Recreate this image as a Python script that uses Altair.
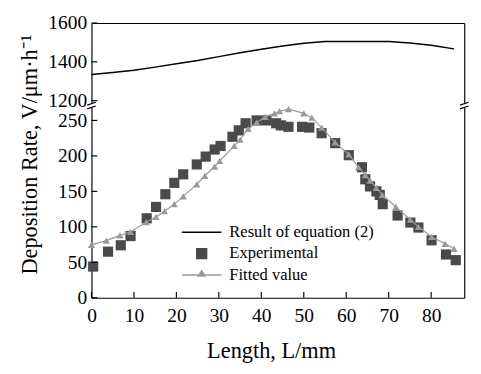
import altair as alt
import pandas as pd

# ---------------- data ----------------
eq_L = [0, 5, 10, 15, 20, 25, 30, 35, 40, 45, 50, 55, 60, 65, 70, 75, 80, 85.4]
eq_V = [1335, 1345, 1357, 1373, 1390, 1407, 1427, 1447, 1465, 1482, 1496, 1505,
        1505, 1505, 1505, 1497, 1486, 1467]

exp_L = [0.4, 3.9, 6.9, 9.2, 13.0, 15.2, 17.4, 19.5, 21.6, 24.8, 26.9, 29.0, 30.4,
         33.2, 34.7, 36.3, 38.9, 41.2, 43.5, 44.6, 46.4, 49.6, 51.3, 54.2, 57.4,
         60.6, 63.7, 64.5, 65.6, 67.1, 67.9, 68.6, 72.1, 75.1, 77.0, 80.1, 83.5, 85.8]
exp_V = [44, 65, 74, 87, 112, 128, 146, 162, 174, 188, 199, 209, 214, 227, 236, 246,
         250, 250, 246, 243, 241, 241, 240, 232, 218, 201, 184, 167, 157, 150, 145,
         132, 116, 106, 99, 81, 61, 53]

fit_L = [0, 3.5, 6.7, 9.2, 12.9, 15.2, 17.2, 19.5, 21.6, 24.8, 26.7, 29.0, 30.2,
         33.6, 35.0, 36.9, 38.9, 40.9, 43.1, 44.3, 46.4, 50.0, 51.9, 54.2, 57.4,
         60.6, 62.9, 64.5, 65.6, 67.1, 68.5, 71.7, 75.1, 77.0, 80.1, 83.3, 85.4]
fit_V = [74.5, 80.5, 88, 93, 106.5, 114, 122, 132, 143, 160, 172, 185, 193, 214, 223,
         238, 247, 255, 260, 263, 266, 260, 254, 240, 219, 202, 184, 173, 165, 155,
         145, 128, 110, 100, 86, 76, 69]

x_ticks = [0, 10, 20, 30, 40, 50, 60, 70, 80]
top_ticks = [1200, 1400, 1600]
bot_ticks = [0, 50, 100, 150, 200, 250]
series = ["Result of equation (2)", "Experimental", "Fitted value"]
x_title = "Length, L/mm"
y_title = "Deposition Rate, V/μm·h⁻¹"
x_edges = [0, 87.8]

# ---------------- style ----------------
FONT = "Liberation Serif"
W, HT, HB = 384, 85, 198
X_DOMAIN = [0, 87.8]
TOP_DOMAIN = [1175, 1600]
BOT_DOMAIN = [0, 271]
EXP_COLOR = "#4a4a4a"
FIT_COLOR = "#9a9a9a"
TICK = 6

LEG_LINE = "M-3.4,0H3.4"
LEG_SQ = "M-0.85,-0.85H0.85V0.85H-0.85Z"
LEG_TRI = "M-3.4,0H3.4M-0.6,0.2L0,-0.7L0.6,0.2Z"
BRK_LINE = "M-1.1,-0.1L1.1,-0.85M-1.1,0.85L1.1,0.1"
BRK_FILL = "M-1.1,-0.1L1.1,-0.85L1.1,0.1L-1.1,0.85Z"

xs = alt.Scale(domain=X_DOMAIN, nice=False, zero=False)
ys_top = alt.Scale(domain=TOP_DOMAIN, nice=False, zero=False)
ys_bot = alt.Scale(domain=BOT_DOMAIN, nice=False, zero=False)

base_axis = dict(grid=False, ticks=False, tickSize=0, domainColor="black",
                 domainWidth=1.2, labelFont=FONT, labelFontSize=20,
                 labelColor="black", labelFlush=False, labelOverlap=False,
                 format="d")

x_top_axis = alt.Axis(orient="top", labels=False, title=None, **base_axis)
x_bot_axis = alt.Axis(orient="bottom", values=x_ticks, labelPadding=8,
                      title=x_title, titleFont=FONT, titleFontSize=23,
                      titleFontWeight="normal", titleColor="black",
                      titleX=185, titleY=62, titleBaseline="alphabetic",
                      titleAlign="center", **base_axis)
y_top_axis = alt.Axis(orient="left", values=top_ticks, labelPadding=5,
                      title=None, **base_axis)
y_bot_axis = alt.Axis(orient="left", values=bot_ticks, labelPadding=5,
                      title=y_title, titleFont=FONT, titleFontSize=23,
                      titleFontWeight="normal", titleColor="black",
                      titleAngle=270, titleX=-57, titleY=50,
                      titleBaseline="alphabetic", titleAlign="center",
                      **base_axis)
y_right_axis = alt.Axis(orient="right", labels=False, title=None, **base_axis)

df_eq = pd.DataFrame({"L": eq_L, "V": eq_V})
df_exp = pd.DataFrame({"L": exp_L, "V": exp_V})
df_fit = pd.DataFrame({"L": fit_L, "V": fit_V})
df_xt = pd.DataFrame({"t": x_ticks})
df_tt = pd.DataFrame({"t": top_ticks})
df_bt = pd.DataFrame({"t": bot_ticks})
df_edge = pd.DataFrame({"b": x_edges})
df_leg = pd.DataFrame({"s": series})

# ---------------- top panel ----------------
top_line = alt.Chart(df_eq).mark_line(color="black", strokeWidth=1.5).encode(
    x=alt.X("L:Q", scale=xs, axis=x_top_axis),
    y=alt.Y("V:Q", scale=ys_top, axis=y_top_axis),
)
top_right = alt.Chart(df_eq).mark_point(opacity=0).encode(
    x=alt.X("L:Q", scale=xs, axis=x_top_axis),
    y=alt.Y("V:Q", scale=ys_top, axis=y_right_axis),
)
top_yt = alt.Chart(df_tt).mark_rule(color="black", strokeWidth=1.2).encode(
    y=alt.Y("t:Q", scale=ys_top, axis=None),
    x=alt.value(0), x2=alt.value(TICK),
)
top = alt.layer(top_line, top_right, top_yt).resolve_axis(
    y="independent").properties(width=W, height=HT)

# ---------------- bottom panel ----------------
leg = alt.Legend(title=None, orient="none", legendX=105, legendY=122,
                 labelFont=FONT, labelFontSize=17, labelColor="black",
                 labelLimit=300, symbolSize=144, symbolStrokeWidth=1.5,
                 symbolOpacity=1, labelOffset=20, rowPadding=4, padding=0,
                 symbolOffset=0)

exp_pts = alt.Chart(df_exp).mark_square(color=EXP_COLOR, size=110, opacity=1).encode(
    x=alt.X("L:Q", scale=xs, axis=x_bot_axis),
    y=alt.Y("V:Q", scale=ys_bot, axis=y_bot_axis),
)
fit_line = alt.Chart(df_fit).mark_line(color=FIT_COLOR, strokeWidth=1.2).encode(
    x=alt.X("L:Q", scale=xs, axis=x_bot_axis),
    y=alt.Y("V:Q", scale=ys_bot, axis=None),
)
fit_pts = alt.Chart(df_fit).mark_point(shape="triangle-up", filled=True,
                                       color=FIT_COLOR, size=55, opacity=1).encode(
    x=alt.X("L:Q", scale=xs, axis=x_bot_axis),
    y=alt.Y("V:Q", scale=ys_bot, axis=None),
)
bot_right = alt.Chart(df_exp).mark_point(opacity=0).encode(
    x=alt.X("L:Q", scale=xs, axis=x_bot_axis),
    y=alt.Y("V:Q", scale=ys_bot, axis=y_right_axis),
)
bot_xt = alt.Chart(df_xt).mark_rule(color="black", strokeWidth=1.2).encode(
    x=alt.X("t:Q", scale=xs, axis=x_bot_axis),
    y=alt.value(HB), y2=alt.value(HB - TICK),
)
bot_yt = alt.Chart(df_bt).mark_rule(color="black", strokeWidth=1.2).encode(
    y=alt.Y("t:Q", scale=ys_bot, axis=None),
    x=alt.value(0), x2=alt.value(TICK),
)
brk_fill = alt.Chart(df_edge).mark_point(shape=BRK_FILL, filled=True, color="white",
                                         size=64, opacity=1, strokeWidth=0).encode(
    x=alt.X("b:Q", scale=xs, axis=x_bot_axis), y=alt.value(0),
)
brk_line = alt.Chart(df_edge).mark_point(shape=BRK_LINE, filled=False, color="black",
                                         size=64, opacity=1, strokeWidth=1.2).encode(
    x=alt.X("b:Q", scale=xs, axis=x_bot_axis), y=alt.value(0),
)
leg_layer = alt.Chart(df_leg).mark_point(filled=True, opacity=0, size=144,
                                         strokeWidth=1.5).encode(
    fill=alt.Fill("s:N", scale=alt.Scale(domain=series,
                  range=["black", EXP_COLOR, FIT_COLOR]), legend=leg),
    stroke=alt.Stroke("s:N", scale=alt.Scale(domain=series,
                      range=["black", EXP_COLOR, FIT_COLOR]), legend=leg),
    shape=alt.Shape("s:N", scale=alt.Scale(domain=series,
                    range=[LEG_LINE, LEG_SQ, LEG_TRI]), legend=leg),
    x=alt.value(W / 2), y=alt.value(HB / 2),
)

bottom = alt.layer(exp_pts, fit_line, fit_pts, bot_right, bot_xt, bot_yt,
                   brk_fill, brk_line, leg_layer).resolve_axis(
    y="independent").properties(width=W, height=HB)

chart = alt.vconcat(top, bottom, spacing=0, bounds="flush").resolve_legend(
    fill="independent", stroke="independent", shape="independent"
).properties(
    padding={"left": 10, "top": 0, "right": 2, "bottom": 4}
).configure_view(stroke=None)

chart.save("out.html", embed_options={"renderer": "svg", "actions": False})
